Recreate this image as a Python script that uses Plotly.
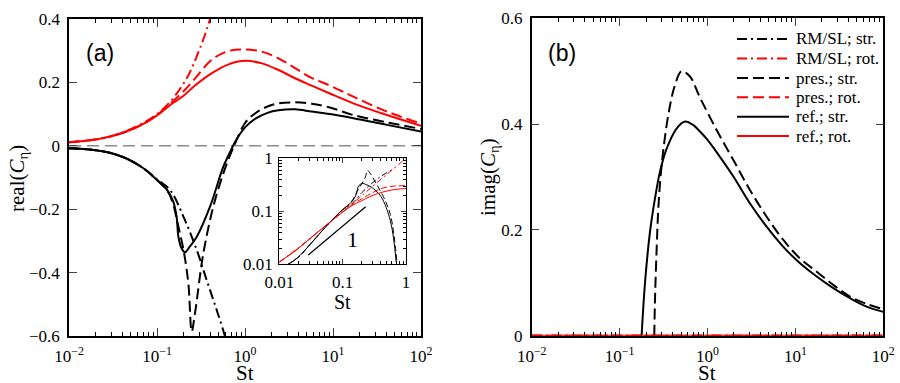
import plotly.graph_objects as go

# ---- panel (a): real part ----
st_ref_rot = [0.01, 0.019, 0.029, 0.045, 0.07, 0.1, 0.14, 0.2, 0.27, 0.42, 0.65, 1.0, 1.55, 2.4, 3.7, 5.7, 9.2, 17, 41, 100]
re_ref_rot = [0.011, 0.019, 0.029, 0.045, 0.069, 0.096, 0.128, 0.158, 0.19, 0.229, 0.257, 0.268, 0.26, 0.239, 0.213, 0.19, 0.165, 0.134, 0.097, 0.063]

st_pres_rot = [0.01, 0.019, 0.029, 0.045, 0.07, 0.1, 0.14, 0.2, 0.27, 0.42, 0.65, 1.0, 1.55, 2.4, 3.7, 5.7, 9.2, 17, 41, 100]
re_pres_rot = [0.011, 0.019, 0.029, 0.045, 0.069, 0.097, 0.132, 0.172, 0.212, 0.272, 0.299, 0.304, 0.297, 0.276, 0.245, 0.214, 0.19, 0.155, 0.108, 0.070]

st_rmsl_rot = [0.01, 0.03, 0.1, 0.2, 0.3, 0.42, 0.6, 1.0]
re_rmsl_rot = [0.011, 0.03, 0.1, 0.196, 0.3, 0.42, 0.6, 1.0]

st_ref_str = [0.01, 0.019, 0.029, 0.045, 0.07, 0.1, 0.13, 0.153, 0.167, 0.175, 0.19, 0.208, 0.23, 0.283, 0.4, 0.567, 0.70, 0.73, 0.8, 1.0, 1.3, 1.8, 2.4, 3.7, 5.7, 9.2, 17, 41, 100]
re_ref_str = [-0.008, -0.013, -0.022, -0.04, -0.071, -0.108, -0.139, -0.176, -0.224, -0.287, -0.323, -0.336, -0.322, -0.287, -0.192, -0.066, -0.011, 0.0, 0.02, 0.058, 0.085, 0.104, 0.112, 0.115, 0.108, 0.1, 0.087, 0.066, 0.045]

st_pres_str = [0.01, 0.019, 0.029, 0.045, 0.07, 0.1, 0.13, 0.153, 0.168, 0.2, 0.227, 0.248, 0.27, 0.336, 0.436, 0.567, 0.72, 0.75, 1.0, 1.3, 1.8, 2.4, 3.7, 5.7, 9.2, 17, 41, 100]
re_pres_str = [-0.008, -0.013, -0.022, -0.04, -0.071, -0.108, -0.14, -0.185, -0.234, -0.329, -0.434, -0.586, -0.528, -0.339, -0.192, -0.087, -0.011, 0.0, 0.072, 0.102, 0.124, 0.134, 0.137, 0.133, 0.121, 0.097, 0.074, 0.053]

st_rmsl_str = [0.01, 0.019, 0.029, 0.045, 0.07, 0.1, 0.141, 0.2, 0.283, 0.366, 0.476, 0.593, 0.62]
re_rmsl_str = [-0.008, -0.013, -0.022, -0.04, -0.071, -0.106, -0.14, -0.224, -0.329, -0.423, -0.518, -0.602, -0.63]

# ---- panel (b): imaginary part ----
st_im_ref_str = [0.178, 0.195, 0.222, 0.253, 0.288, 0.344, 0.447, 0.555, 0.69, 0.82, 0.98, 1.27, 1.97, 3.05, 4.71, 7.29, 11.3, 17.5, 27, 41.8, 64.7, 100]
im_ref_str = [0, 0.102, 0.197, 0.26, 0.31, 0.354, 0.392, 0.405, 0.398, 0.386, 0.372, 0.347, 0.301, 0.25, 0.206, 0.168, 0.137, 0.112, 0.09, 0.071, 0.055, 0.045]

st_im_pres_str = [0.248, 0.253, 0.264, 0.276, 0.301, 0.358, 0.427, 0.508, 0.632, 0.822, 1.27, 1.97, 3.05, 4.71, 7.29, 11.3, 17.5, 27, 41.8, 64.7, 100]
im_pres_str = [0, 0.071, 0.165, 0.241, 0.323, 0.417, 0.474, 0.5, 0.49, 0.45, 0.389, 0.332, 0.275, 0.225, 0.181, 0.146, 0.121, 0.096, 0.074, 0.06, 0.05]

st_im_zero = [0.01, 100]
im_zero = [0, 0]

# slope-1 guide in the inset
slope_st = [0.0287, 0.231]
slope_val = [0.015, 0.122]

serif = "Liberation Serif, Times New Roman, serif"
sans = "Liberation Sans, Arial, sans-serif"
RED = "#ff0000"
DD = "10px,4px,2px,4px"
DA = "11px,5px"
W, H = 900, 383

fig = go.Figure()


def add(x, y, color, dash, xa, ya, width=2, shape="spline"):
    fig.add_trace(go.Scatter(x=x, y=y, mode="lines", showlegend=False,
                             line=dict(color=color, dash=dash, width=width, shape=shape),
                             xaxis=xa, yaxis=ya, hoverinfo="skip"))


def label(text, px, py, size=21, angle=0, family=serif, xanchor="center"):
    fig.add_annotation(text=text, xref="paper", yref="paper", x=px / W, y=1 - py / H,
                       xanchor=xanchor, yanchor="middle", showarrow=False, textangle=angle,
                       borderpad=0, font=dict(family=family, size=size, color="black"))


names = ["RM/SL; str.", "RM/SL; rot.", "pres.; str.", "pres.; rot.", "ref.; str.", "ref.; rot."]
styles = [("black", DD), (RED, DD), ("black", DA), (RED, DA), ("black", "solid"), (RED, "solid")]
signs = [-1, 1, -1, 1, -1, 1]

left = [(st_rmsl_str, re_rmsl_str), (st_rmsl_rot, re_rmsl_rot),
        (st_pres_str, re_pres_str), (st_pres_rot, re_pres_rot),
        (st_ref_str, re_ref_str), (st_ref_rot, re_ref_rot)]
right = [(st_im_zero, im_zero), (st_im_zero, im_zero),
         (st_im_pres_str, im_pres_str), (st_im_zero, im_zero),
         (st_im_ref_str, im_ref_str), (st_im_zero, im_zero)]

for (x, y), (c, d) in zip(left, styles):
    add(x, y, c, d, "x", "y")
for (x, y), (c, d) in zip(right, styles):
    add(x, y, c, d, "x2", "y2")

# inset: magnitude of the real part on log-log (only up to the sign change)
for (x, y), (c, d), s in zip(left, styles, signs):
    xs, ys = [], []
    for a, b in zip(x, y):
        if s * b <= 0:
            break
        xs.append(a)
        ys.append(s * b)
    idash = "solid" if d == "solid" else ("6px,3px,2px,3px" if d == DD else "6px,3px")
    add(xs, ys, c, idash, "x3", "y3", width=1)
add(slope_st, slope_val, "black", "solid", "x3", "y3", width=1.2, shape="linear")

tickfont = dict(family=serif, size=17, color="black")
dec_vals = [0.01, 0.1, 1, 10, 100]
dec_text = ["10<sup>\u22122</sup>", "10<sup>\u22121</sup>", "10<sup>0</sup>", "10<sup>1</sup>", "10<sup>2</sup>"]
xcommon = dict(type="log", range=[-2, 2], tickvals=dec_vals, ticktext=dec_text,
               ticks="inside", ticklen=8, tickwidth=1.2, mirror="allticks", showline=True,
               linecolor="black", linewidth=1.5, showgrid=False, zeroline=False,
               tickfont=tickfont, automargin=False, ticklabelstandoff=4,
               minor=dict(ticks="inside", ticklen=4, dtick="D1", tickcolor="black", showgrid=False))
ycommon = dict(ticks="inside", ticklen=8, tickwidth=1.2, mirror="allticks", showline=True,
               linecolor="black", linewidth=1.5, showgrid=False, zeroline=False,
               tickfont=tickfont, automargin=False, ticklabelstandoff=4)
inset_common = dict(type="log", range=[-2, 0], tickvals=[0.01, 0.1, 1], ticktext=["0.01", "0.1", "1"],
                    ticks="inside", ticklen=5, mirror="allticks", showline=True, linecolor="black",
                    linewidth=1.2, showgrid=False, zeroline=False, tickfont=tickfont, automargin=False,
                    ticklabelstandoff=2,
                    minor=dict(ticks="inside", ticklen=3, dtick="D1", tickcolor="black", showgrid=False))

fig.update_layout(
    width=W, height=H,
    margin=dict(l=0, r=0, t=0, b=0),
    paper_bgcolor="white", plot_bgcolor="rgba(0,0,0,0)",
    showlegend=False,
    xaxis=dict(domain=[0.0767, 0.4678], anchor="y", **xcommon),
    yaxis=dict(domain=[0.1227, 0.9504], anchor="x", range=[-0.6, 0.4],
               tickvals=[-0.6, -0.4, -0.2, 0, 0.2, 0.4],
               ticktext=["\u22120.6", "\u22120.4", "\u22120.2", "0", "0.2", "0.4"], **ycommon),
    xaxis2=dict(domain=[0.5908, 0.9814], anchor="y2", **xcommon),
    yaxis2=dict(domain=[0.1235, 0.9522], anchor="x2", range=[0, 0.6],
                tickvals=[0, 0.2, 0.4, 0.6], ticktext=["0", "0.2", "0.4", "0.6"], **ycommon),
    xaxis3=dict(domain=[0.3103, 0.4511], anchor="y3", **inset_common),
    yaxis3=dict(domain=[0.3099, 0.5867], anchor="x3", **inset_common),
)

# dashed zero line in panel (a)
fig.add_shape(type="line", xref="x domain", yref="y", x0=0, x1=1, y0=0, y1=0,
              line=dict(color="#8c8c8c", width=1.5, dash="12px,6px"), layer="below")

# axis titles
label("St", 245, 373)
label("St", 707, 373)
label("St", 342, 302, size=20)
label("real(<i>C</i><sub>\u03b7</sub>)", 18, 179, angle=-90)
label("imag(<i>C</i><sub>\u03b7</sub>)", 489, 177, angle=-90)

# hand-placed legend in panel (b)
leg_rows = [39, 58.5, 78, 97.3, 116.7, 136]
for (c, d), n, ry in zip(styles, names, leg_rows):
    yp = 1 - ry / H
    fig.add_shape(type="line", xref="paper", yref="paper", x0=737 / W, x1=789 / W, y0=yp, y1=yp,
                  line=dict(color=c, width=2, dash=d))
    label(n, 795, ry, size=17, xanchor="left")

label("(a)", 100, 53, size=23, family=sans)
label("(b)", 562, 53, size=23, family=sans)
fig.add_annotation(text="1", xref="x3", yref="y3", x=-0.848, y=-1.54, showarrow=False,
                   font=dict(family=serif, size=22, color="black"))

fig.write_html("out.html", config={"displayModeBar": False},
               post_script="document.body.style.margin='0';")
